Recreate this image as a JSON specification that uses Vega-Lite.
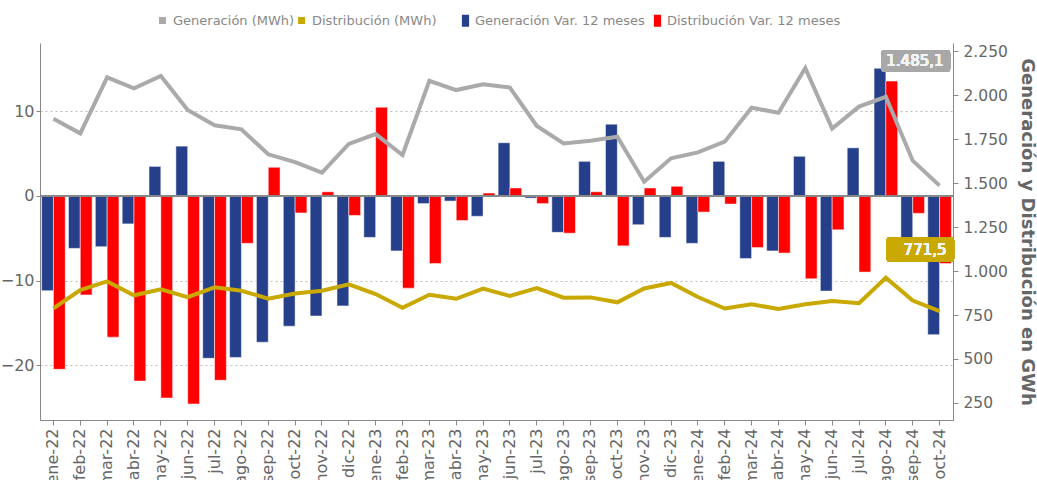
{
  "$schema": "https://vega.github.io/schema/vega-lite/v6.json",
  "width": 913,
  "height": 377,
  "autosize": {"type": "none"},
  "padding": {"left": 40, "top": 43, "right": 84, "bottom": 60},
  "background": "#ffffff",
  "datasets": {
    "lineas": [
      {"mes": "ene-22", "gen": 1865, "dist": 788},
      {"mes": "feb-22", "gen": 1782, "dist": 892},
      {"mes": "mar-22", "gen": 2100, "dist": 941},
      {"mes": "abr-22", "gen": 2038, "dist": 862},
      {"mes": "may-22", "gen": 2108, "dist": 896},
      {"mes": "jun-22", "gen": 1915, "dist": 851},
      {"mes": "jul-22", "gen": 1828, "dist": 907},
      {"mes": "ago-22", "gen": 1805, "dist": 888},
      {"mes": "sep-22", "gen": 1663, "dist": 843},
      {"mes": "oct-22", "gen": 1619, "dist": 872},
      {"mes": "nov-22", "gen": 1559, "dist": 888},
      {"mes": "dic-22", "gen": 1722, "dist": 924},
      {"mes": "ene-23", "gen": 1778, "dist": 869},
      {"mes": "feb-23", "gen": 1659, "dist": 791},
      {"mes": "mar-23", "gen": 2081, "dist": 865},
      {"mes": "abr-23", "gen": 2028, "dist": 842},
      {"mes": "may-23", "gen": 2061, "dist": 900},
      {"mes": "jun-23", "gen": 2042, "dist": 858},
      {"mes": "jul-23", "gen": 1824, "dist": 903},
      {"mes": "ago-23", "gen": 1725, "dist": 848},
      {"mes": "sep-23", "gen": 1740, "dist": 850},
      {"mes": "oct-23", "gen": 1763, "dist": 822},
      {"mes": "nov-23", "gen": 1507, "dist": 901},
      {"mes": "dic-23", "gen": 1640, "dist": 932},
      {"mes": "ene-24", "gen": 1674, "dist": 852},
      {"mes": "feb-24", "gen": 1735, "dist": 787},
      {"mes": "mar-24", "gen": 1928, "dist": 811},
      {"mes": "abr-24", "gen": 1899, "dist": 784},
      {"mes": "may-24", "gen": 2153, "dist": 811},
      {"mes": "jun-24", "gen": 1809, "dist": 830},
      {"mes": "jul-24", "gen": 1934, "dist": 817},
      {"mes": "ago-24", "gen": 1990, "dist": 962},
      {"mes": "sep-24", "gen": 1627, "dist": 832},
      {"mes": "oct-24", "gen": 1485.1, "dist": 771.5}
    ],
    "barras": [
      {"mes": "ene-22", "serie": "Generación Var. 12 meses", "valor": -11.2},
      {"mes": "ene-22", "serie": "Distribución Var. 12 meses", "valor": -20.5},
      {"mes": "feb-22", "serie": "Generación Var. 12 meses", "valor": -6.2},
      {"mes": "feb-22", "serie": "Distribución Var. 12 meses", "valor": -11.7},
      {"mes": "mar-22", "serie": "Generación Var. 12 meses", "valor": -6.0},
      {"mes": "mar-22", "serie": "Distribución Var. 12 meses", "valor": -16.7},
      {"mes": "abr-22", "serie": "Generación Var. 12 meses", "valor": -3.3},
      {"mes": "abr-22", "serie": "Distribución Var. 12 meses", "valor": -21.9},
      {"mes": "may-22", "serie": "Generación Var. 12 meses", "valor": 3.5},
      {"mes": "may-22", "serie": "Distribución Var. 12 meses", "valor": -23.9},
      {"mes": "jun-22", "serie": "Generación Var. 12 meses", "valor": 5.9},
      {"mes": "jun-22", "serie": "Distribución Var. 12 meses", "valor": -24.6},
      {"mes": "jul-22", "serie": "Generación Var. 12 meses", "valor": -19.2},
      {"mes": "jul-22", "serie": "Distribución Var. 12 meses", "valor": -21.8},
      {"mes": "ago-22", "serie": "Generación Var. 12 meses", "valor": -19.1},
      {"mes": "ago-22", "serie": "Distribución Var. 12 meses", "valor": -5.6},
      {"mes": "sep-22", "serie": "Generación Var. 12 meses", "valor": -17.3},
      {"mes": "sep-22", "serie": "Distribución Var. 12 meses", "valor": 3.4},
      {"mes": "oct-22", "serie": "Generación Var. 12 meses", "valor": -15.4},
      {"mes": "oct-22", "serie": "Distribución Var. 12 meses", "valor": -2.0},
      {"mes": "nov-22", "serie": "Generación Var. 12 meses", "valor": -14.2},
      {"mes": "nov-22", "serie": "Distribución Var. 12 meses", "valor": 0.5},
      {"mes": "dic-22", "serie": "Generación Var. 12 meses", "valor": -13.0},
      {"mes": "dic-22", "serie": "Distribución Var. 12 meses", "valor": -2.3},
      {"mes": "ene-23", "serie": "Generación Var. 12 meses", "valor": -4.9},
      {"mes": "ene-23", "serie": "Distribución Var. 12 meses", "valor": 10.5},
      {"mes": "feb-23", "serie": "Generación Var. 12 meses", "valor": -6.5},
      {"mes": "feb-23", "serie": "Distribución Var. 12 meses", "valor": -10.9},
      {"mes": "mar-23", "serie": "Generación Var. 12 meses", "valor": -0.9},
      {"mes": "mar-23", "serie": "Distribución Var. 12 meses", "valor": -8.0},
      {"mes": "abr-23", "serie": "Generación Var. 12 meses", "valor": -0.6},
      {"mes": "abr-23", "serie": "Distribución Var. 12 meses", "valor": -2.9},
      {"mes": "may-23", "serie": "Generación Var. 12 meses", "valor": -2.4},
      {"mes": "may-23", "serie": "Distribución Var. 12 meses", "valor": 0.35},
      {"mes": "jun-23", "serie": "Generación Var. 12 meses", "valor": 6.3},
      {"mes": "jun-23", "serie": "Distribución Var. 12 meses", "valor": 0.95},
      {"mes": "jul-23", "serie": "Generación Var. 12 meses", "valor": -0.25},
      {"mes": "jul-23", "serie": "Distribución Var. 12 meses", "valor": -0.9},
      {"mes": "ago-23", "serie": "Generación Var. 12 meses", "valor": -4.3},
      {"mes": "ago-23", "serie": "Distribución Var. 12 meses", "valor": -4.4},
      {"mes": "sep-23", "serie": "Generación Var. 12 meses", "valor": 4.1},
      {"mes": "sep-23", "serie": "Distribución Var. 12 meses", "valor": 0.5},
      {"mes": "oct-23", "serie": "Generación Var. 12 meses", "valor": 8.5},
      {"mes": "oct-23", "serie": "Distribución Var. 12 meses", "valor": -5.9},
      {"mes": "nov-23", "serie": "Generación Var. 12 meses", "valor": -3.4},
      {"mes": "nov-23", "serie": "Distribución Var. 12 meses", "valor": 0.95},
      {"mes": "dic-23", "serie": "Generación Var. 12 meses", "valor": -4.9},
      {"mes": "dic-23", "serie": "Distribución Var. 12 meses", "valor": 1.15},
      {"mes": "ene-24", "serie": "Generación Var. 12 meses", "valor": -5.6},
      {"mes": "ene-24", "serie": "Distribución Var. 12 meses", "valor": -1.9},
      {"mes": "feb-24", "serie": "Generación Var. 12 meses", "valor": 4.1},
      {"mes": "feb-24", "serie": "Distribución Var. 12 meses", "valor": -0.95},
      {"mes": "mar-24", "serie": "Generación Var. 12 meses", "valor": -7.4},
      {"mes": "mar-24", "serie": "Distribución Var. 12 meses", "valor": -6.1},
      {"mes": "abr-24", "serie": "Generación Var. 12 meses", "valor": -6.5},
      {"mes": "abr-24", "serie": "Distribución Var. 12 meses", "valor": -6.75},
      {"mes": "may-24", "serie": "Generación Var. 12 meses", "valor": 4.7},
      {"mes": "may-24", "serie": "Distribución Var. 12 meses", "valor": -9.8},
      {"mes": "jun-24", "serie": "Generación Var. 12 meses", "valor": -11.25},
      {"mes": "jun-24", "serie": "Distribución Var. 12 meses", "valor": -4.0},
      {"mes": "jul-24", "serie": "Generación Var. 12 meses", "valor": 5.7},
      {"mes": "jul-24", "serie": "Distribución Var. 12 meses", "valor": -9.0},
      {"mes": "ago-24", "serie": "Generación Var. 12 meses", "valor": 15.1},
      {"mes": "ago-24", "serie": "Distribución Var. 12 meses", "valor": 13.6},
      {"mes": "sep-24", "serie": "Generación Var. 12 meses", "valor": -5.5},
      {"mes": "sep-24", "serie": "Distribución Var. 12 meses", "valor": -2.05},
      {"mes": "oct-24", "serie": "Generación Var. 12 meses", "valor": -16.4},
      {"mes": "oct-24", "serie": "Distribución Var. 12 meses", "valor": -8.0}
    ]
  },
  "layer": [
    {
      "data": {"name": "barras"},
      "layer": [
        {
          "mark": {"type": "bar", "stroke": "#ffffff", "strokeWidth": 0.5},
          "encoding": {
            "x": {
              "field": "mes", "type": "nominal",
              "scale": {
                "domain": ["ene-22","feb-22","mar-22","abr-22","may-22","jun-22","jul-22","ago-22","sep-22","oct-22","nov-22","dic-22","ene-23","feb-23","mar-23","abr-23","may-23","jun-23","jul-23","ago-23","sep-23","oct-23","nov-23","dic-23","ene-24","feb-24","mar-24","abr-24","may-24","jun-24","jul-24","ago-24","sep-24","oct-24"],
                "paddingInner": 0.12, "paddingOuter": 0.06
              },
              "axis": {"title": null, "labelAngle": -90, "labelFontSize": 16, "tickSize": 5, "labelPadding": 3}
            },
            "xOffset": {
              "field": "serie", "type": "nominal",
              "scale": {"domain": ["Generación Var. 12 meses", "Distribución Var. 12 meses"], "paddingInner": 0, "paddingOuter": 0}
            },
            "y": {
              "field": "valor", "type": "quantitative",
              "scale": {"domain": [-26.5, 18.1], "nice": false, "zero": false},
              "axis": {
                "orient": "left", "title": null, "values": [-20, -10, 0, 10],
                "grid": true, "gridDash": [2, 3], "gridColor": "#bbbbbb",
                "labelFontSize": 16, "tickSize": 4, "labelPadding": 2
              }
            },
            "fill": {
              "field": "serie", "type": "nominal",
              "scale": {"domain": ["Generación Var. 12 meses", "Distribución Var. 12 meses"], "range": ["#253f8a", "#ff0000"]},
              "legend": {
                "orient": "none", "direction": "horizontal", "title": null,
                "legendX": 419, "legendY": -29,
                "symbolType": "M-0.6,-1H0.6V1H-0.6Z", "symbolSize": 144,
                "labelFontSize": 13, "labelColor": "#888888", "labelOffset": 3, "labelLimit": 400,
                "columnPadding": 6, "symbolStrokeWidth": 0
              }
            }
          }
        },
        {
          "mark": {"type": "rule", "stroke": "#888888", "strokeWidth": 2},
          "encoding": {"y": {"datum": 0}}
        }
      ]
    },
    {
      "data": {"name": "lineas"},
      "layer": [
        {
          "mark": {"type": "line", "strokeWidth": 4},
          "encoding": {
            "x": {"field": "mes", "type": "nominal", "axis": {"title": null, "labelAngle": -90, "labelFontSize": 16, "tickSize": 5, "labelPadding": 3}},
            "y": {
              "field": "gen", "type": "quantitative",
              "scale": {"domain": [153.4, 2295.5], "nice": false, "zero": false},
              "axis": {
                "orient": "right", "title": "Generación y Distribución en GWh",
                "titleFontSize": 18, "titleFontWeight": "bold", "titlePadding": 10,
                "values": [250, 500, 750, 1000, 1250, 1500, 1750, 2000, 2250],
                "labelExpr": "replace(format(datum.value, ','), ',', '.')",
                "labelFontSize": 15.5, "grid": false, "tickSize": 5, "labelPadding": 5
              }
            },
            "stroke": {
              "datum": "Generación (MWh)",
              "scale": {"domain": ["Generación (MWh)", "Distribución (MWh)"], "range": ["#aaaaaa", "#c9a800"]},
              "legend": {
                "orient": "none", "direction": "horizontal", "title": null,
                "legendX": 116, "legendY": -29,
                "symbolType": "square", "symbolSize": 9, "symbolStrokeWidth": 4,
                "labelFontSize": 13, "labelColor": "#888888", "labelOffset": 4, "labelLimit": 400,
                "columnPadding": -7
              }
            }
          }
        },
        {
          "mark": {"type": "line", "strokeWidth": 4},
          "encoding": {
            "x": {"field": "mes", "type": "nominal", "axis": {"title": null, "labelAngle": -90, "labelFontSize": 16, "tickSize": 5, "labelPadding": 3}},
            "y": {
              "field": "dist", "type": "quantitative",
              "axis": {
                "orient": "right", "title": "Generación y Distribución en GWh",
                "titleFontSize": 18, "titleFontWeight": "bold", "titlePadding": 10,
                "values": [250, 500, 750, 1000, 1250, 1500, 1750, 2000, 2250],
                "labelExpr": "replace(format(datum.value, ','), ',', '.')",
                "labelFontSize": 15.5, "grid": false, "tickSize": 5, "labelPadding": 5
              }
            },
            "stroke": {"datum": "Distribución (MWh)"}
          }
        },
        {
          "mark": {
            "type": "point", "filled": true, "opacity": 1, "fill": "#a8a8a8", "strokeWidth": 0, "size": 4624,
            "shape": "M-1.63,-0.318H0.22Q0.31,-0.318 0.31,-0.228V0.228Q0.31,0.318 0.22,0.318H-1.63Q-1.72,0.318 -1.72,0.228V-0.228Q-1.72,-0.318 -1.63,-0.318Z"
          },
          "encoding": {"x": {"datum": "oct-24"}, "y": {"datum": 2193}}
        },
        {
          "mark": {"type": "text", "text": "1.485,1", "fill": "#f4f4f4", "fontSize": 15, "fontWeight": "normal", "align": "right", "baseline": "middle", "dx": 4},
          "encoding": {"x": {"datum": "oct-24"}, "y": {"datum": 2193}}
        },
        {
          "mark": {
            "type": "point", "filled": true, "opacity": 1, "fill": "#c9a800", "strokeWidth": 0, "size": 4624,
            "shape": "M-1.463,-0.359H0.336Q0.426,-0.359 0.426,-0.269V0.269Q0.426,0.359 0.336,0.359H-1.463Q-1.553,0.359 -1.553,0.269V-0.269Q-1.553,-0.359 -1.463,-0.359Z"
          },
          "encoding": {"x": {"datum": "oct-24"}, "y": {"datum": 1122}}
        },
        {
          "mark": {"type": "text", "text": "771,5", "fill": "#f4f4f4", "fontSize": 15, "fontWeight": "normal", "align": "right", "baseline": "middle", "dx": 7},
          "encoding": {"x": {"datum": "oct-24"}, "y": {"datum": 1122}}
        }
      ]
    }
  ],
  "resolve": {"scale": {"y": "independent"}},
  "config": {
    "font": "DejaVu Sans",
    "view": {"stroke": null},
    "axis": {"domainColor": "#888888", "tickColor": "#888888", "labelColor": "#666666", "titleColor": "#666666"}
  }
}
